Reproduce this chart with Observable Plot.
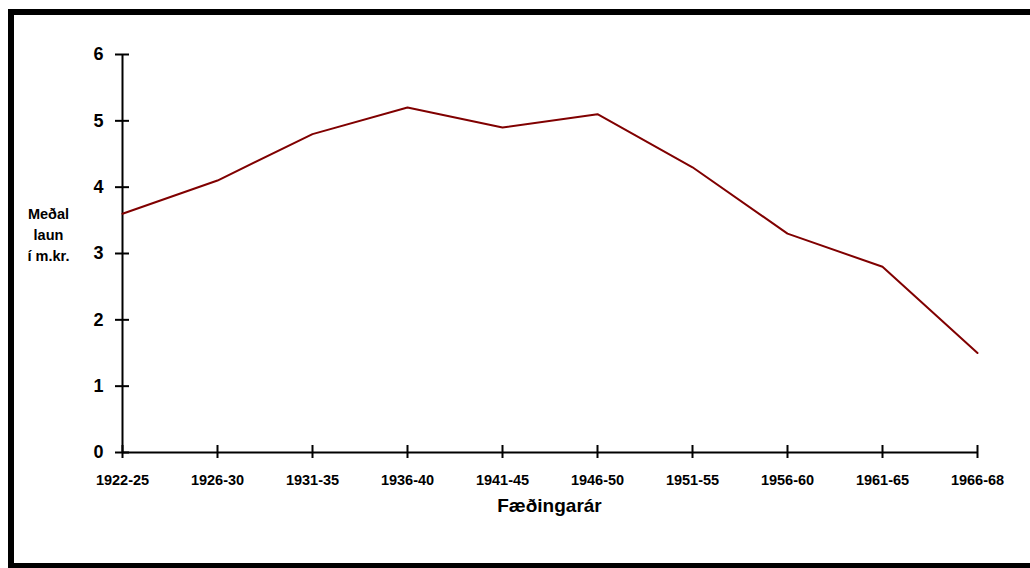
<!DOCTYPE html>
<html>
<head>
<meta charset="utf-8">
<script src="https://cdn.jsdelivr.net/npm/d3@7"></script>
<script src="https://cdn.jsdelivr.net/npm/@observablehq/plot@0.6"></script>
<style>
  html, body { margin: 0; padding: 0; background: #fff; }
  #wrap { position: relative; width: 1030px; height: 568px; overflow: hidden; }
  #frame { position: absolute; left: 8px; top: 9px; width: 1040px; height: 548px;
           border-left: 6px solid #000; border-top: 6px solid #000; border-bottom: 6px solid #000;
           pointer-events: none; }
  #chart { position: absolute; left: 0; top: 0; }
</style>
</head>
<body>
<div id="wrap"><div id="chart"></div><div id="frame"></div></div>
<script>
const categories = ["1922-25","1926-30","1931-35","1936-40","1941-45","1946-50","1951-55","1956-60","1961-65","1966-68"];
const values = [3.6, 4.1, 4.8, 5.2, 4.9, 5.1, 4.3, 3.3, 2.8, 1.5];
const yTicks = [0, 1, 2, 3, 4, 5, 6];
const yLabel = "Meðal\nlaun\ní m.kr.";
const xLabel = "Fæðingarár";

const data = categories.map((c, i) => ({cat: c, v: values[i]}));
const font = "'Liberation Sans', Arial, sans-serif";
const first = () => categories[0];
const last = () => categories[categories.length - 1];

const chart = Plot.plot({
  width: 1030,
  height: 568,
  marginLeft: 120,
  marginRight: 52,
  marginTop: 54,
  marginBottom: 116,
  style: {fontFamily: font, background: "transparent"},
  x: {type: "point", domain: categories, padding: 0, axis: null},
  y: {domain: [0, 6], axis: null},
  marks: [
    Plot.ruleX([0], {x: first, y1: () => 0, y2: () => 6, stroke: "#000", strokeWidth: 2}),
    Plot.ruleY([0], {y: () => 0, x1: first, x2: last, stroke: "#000", strokeWidth: 2}),
    Plot.ruleY(yTicks, {y: d => d, x1: first, x2: first, insetLeft: -7, insetRight: -7, stroke: "#000", strokeWidth: 2}),
    Plot.ruleX(categories, {x: d => d, y1: () => 0, y2: () => 0, insetTop: -7, insetBottom: -6, stroke: "#000", strokeWidth: 2}),
    Plot.text(yTicks, {y: d => d, x: first, text: d => String(d), dx: -19, textAnchor: "end", fontSize: 18, fontWeight: "bold", fill: "#000"}),
    Plot.text(categories, {x: d => d, y: () => 0, text: d => d, dy: 28, fontSize: 14.5, fontWeight: "bold", fill: "#000"}),
    Plot.line(data, {x: "cat", y: "v", stroke: "#800000", strokeWidth: 2}),
    Plot.text([yLabel], {frameAnchor: "left", text: d => d, dx: -72, dy: -20, lineHeight: 1.45, textAnchor: "middle", fontSize: 14.5, fontWeight: "bold", fill: "#000"}),
    Plot.text([xLabel], {frameAnchor: "bottom", text: d => d, dy: 59, fontSize: 19, fontWeight: "bold", fill: "#000"})
  ]
});
document.getElementById("chart").appendChild(chart);
</script>
</body>
</html>
